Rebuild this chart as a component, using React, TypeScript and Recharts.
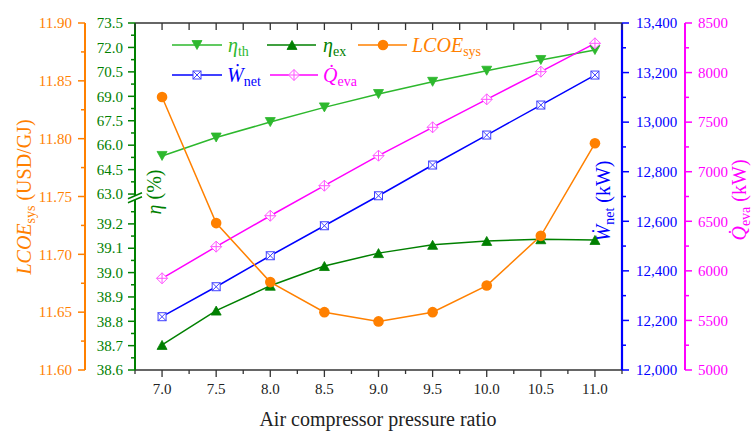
import { LineChart, Line, XAxis, YAxis, Legend } from 'recharts';

const FONT = '"Liberation Serif", "DejaVu Serif", serif';

const C_TH = '#2DB82D';
const C_EX = '#008000';
const C_LCOE = '#FF8000';
const C_W = '#0000FF';
const C_Q = '#FF00FF';
const C_AX = '#333333';

// air compressor pressure ratio
const ratio = [7.0, 7.5, 8.0, 8.5, 9.0, 9.5, 10.0, 10.5, 11.0];
// efficiencies (%)
const etaTh = [65.34, 66.47, 67.42, 68.32, 69.14, 69.89, 70.57, 71.23, 71.84];
const etaEx = [38.703, 38.844, 38.946, 39.027, 39.08, 39.114, 39.13, 39.137, 39.134];
// LCOE (USD/GJ)
const lcoe = [11.836, 11.727, 11.676, 11.65, 11.642, 11.65, 11.673, 11.716, 11.796];
// net power and evaporator duty (kW)
const wNet = [12215, 12336, 12461, 12582, 12703, 12827, 12948, 13069, 13190];
const qEva = [5925, 6244, 6556, 6859, 7162, 7448, 7730, 8009, 8295];

const xTicks = [6.75, 7, 7.25, 7.5, 7.75, 8, 8.25, 8.5, 8.75, 9, 9.25, 9.5, 9.75, 10, 10.25, 10.5, 10.75, 11, 11.25];
const xMajor = [7, 7.5, 8, 8.5, 9, 9.5, 10, 10.5, 11];
const lcoeTicks = [11.6, 11.625, 11.65, 11.675, 11.7, 11.725, 11.75, 11.775, 11.8, 11.825, 11.85, 11.875, 11.9];
const lcoeMajor = [11.6, 11.65, 11.7, 11.75, 11.8, 11.85, 11.9];
const thTicks = [63, 63.75, 64.5, 65.25, 66, 66.75, 67.5, 68.25, 69, 69.75, 70.5, 71.25, 72, 72.75, 73.5];
const thMajor = [63, 64.5, 66, 67.5, 69, 70.5, 72, 73.5];
const exTicks = [38.6, 38.65, 38.7, 38.75, 38.8, 38.85, 38.9, 38.95, 39.0, 39.05, 39.1, 39.15, 39.2, 39.25];
const exMajor = [38.6, 38.7, 38.8, 38.9, 39.0, 39.1, 39.2];
const wTicks = [12000, 12100, 12200, 12300, 12400, 12500, 12600, 12700, 12800, 12900, 13000, 13100, 13200, 13300, 13400];
const wMajor = [12000, 12200, 12400, 12600, 12800, 13000, 13200, 13400];
const qTicks = [5000, 5250, 5500, 5750, 6000, 6250, 6500, 6750, 7000, 7250, 7500, 7750, 8000, 8250, 8500];
const qMajor = [5000, 5500, 6000, 6500, 7000, 7500, 8000, 8500];

const rows = ratio.map((r, i) => ({ r, th: etaTh[i], ex: etaEx[i], lcoe: lcoe[i], w: wNet[i], q: qEva[i] }));

const isMajor = (v: number, majors: number[]) => majors.some((m) => Math.abs(m - v) < 1e-6);

// markers
const TriDown = ({ cx, cy, fill }: any) => (
  <polygon points={`${cx - 5},${cy - 4.5} ${cx + 5},${cy - 4.5} ${cx},${cy + 4.5}`} fill={fill} stroke={fill} strokeWidth={0.8} />
);
const TriUp = ({ cx, cy, fill }: any) => (
  <polygon points={`${cx - 5},${cy + 4.5} ${cx + 5},${cy + 4.5} ${cx},${cy - 4.5}`} fill={fill} stroke={fill} strokeWidth={0.8} />
);
const Dot = ({ cx, cy, fill }: any) => <circle cx={cx} cy={cy} r={5.3} fill={fill} />;
const SqX = ({ cx, cy, color }: any) => (
  <g stroke={color} strokeWidth={1}>
    <rect x={cx - 4} y={cy - 4} width={8} height={8} fill="#fff" />
    <line x1={cx - 4} y1={cy - 4} x2={cx + 4} y2={cy + 4} />
    <line x1={cx + 4} y1={cy - 4} x2={cx - 4} y2={cy + 4} />
  </g>
);
const DiaPlus = ({ cx, cy, color }: any) => (
  <g stroke={color} strokeWidth={1}>
    <polygon points={`${cx},${cy - 5.5} ${cx + 5.5},${cy} ${cx},${cy + 5.5} ${cx - 5.5},${cy}`} fill="#fff" />
    <line x1={cx - 5.5} y1={cy} x2={cx + 5.5} y2={cy} />
    <line x1={cx} y1={cy - 5.5} x2={cx} y2={cy + 5.5} />
  </g>
);

function yTick(side: 'left' | 'right', color: string, majors: number[], fmt: (v: number) => string, gap: number) {
  return (p: any) => {
    const { x, y, payload } = p;
    const v = Number(payload.value);
    const major = isMajor(v, majors);
    const d = side === 'left' ? -1 : 1;
    return (
      <g>
        <line x1={x} x2={x + d * (major ? 7 : 4)} y1={y} y2={y} stroke={color} strokeWidth={1.5} />
        {major && (
          <text x={x + d * gap} y={y} dy="0.35em" textAnchor={side === 'left' ? 'end' : 'start'} fontSize={15} fontFamily={FONT} fill={color}>
            {fmt(v)}
          </text>
        )}
      </g>
    );
  };
}

const LcoeTick = yTick('left', C_LCOE, lcoeMajor, (v) => v.toFixed(2), 13);
const ThTick = yTick('left', C_EX, thMajor, (v) => v.toFixed(1), 12);
const exBase = yTick('left', C_EX, exMajor, (v) => v.toFixed(1), 12);
const ExTick = (p: any) => {
  const base = exBase(p);
  if (Math.abs(Number(p.payload.value) - 39.25) > 1e-6) return base;
  const { x, y } = p;
  const b = y - 14;
  return (
    <g>
      {base}
      <polygon points={`${x - 7},${b + 1} ${x + 7},${b - 5} ${x + 7},${b - 1} ${x - 7},${b + 5}`} fill="#fff" />
      <line x1={x - 7} y1={b + 1} x2={x + 7} y2={b - 5} stroke={C_EX} strokeWidth={1.5} />
      <line x1={x - 7} y1={b + 5} x2={x + 7} y2={b - 1} stroke={C_EX} strokeWidth={1.5} />
    </g>
  );
};
const WTick = yTick('right', C_W, wMajor, (v) => v.toLocaleString('en-US'), 14);
const QTick = yTick('right', C_Q, qMajor, (v) => String(v), 13);

const XBottomTick = (p: any) => {
  const { x, y, payload } = p;
  const v = Number(payload.value);
  const major = isMajor(v, xMajor);
  return (
    <g>
      <line x1={x} x2={x} y1={y} y2={y + (major ? 7 : 4)} stroke={C_AX} strokeWidth={1.3} />
      {major && (
        <text x={x} y={y + 24} textAnchor="middle" fontSize={15} fontFamily={FONT} fill="#222">
          {v.toFixed(1)}
        </text>
      )}
    </g>
  );
};
const XTopTick = (p: any) => {
  const { x, y } = p;
  return <line x1={x} x2={x} y1={y} y2={y + 7} stroke={C_AX} strokeWidth={1.3} />;
};

const rot = (x: number, y: number) => `rotate(-90 ${x} ${y})`;

const XTitle = () => (
  <text x={378} y={426} textAnchor="middle" fontSize={20} fontFamily={FONT} fill="#222">
    Air compressor pressure ratio
  </text>
);
const LcoeTitle = () => (
  <text x={31} y={197} transform={rot(31, 197)} textAnchor="middle" fontSize={20} fontFamily={FONT} fill={C_LCOE}>
    <tspan fontStyle="italic">LCOE</tspan>
    <tspan fontSize={14} dy={4}>sys</tspan>
    <tspan dy={-4}> (USD/GJ)</tspan>
  </text>
);
const EtaTitle = () => (
  <text x={161} y={192} transform={rot(161, 192)} textAnchor="middle" fontSize={20} fontFamily={FONT} fill={C_EX}>
    <tspan fontStyle="italic">η</tspan> (%)
  </text>
);
const WTitle = () => (
  <text x={610} y={201} transform={rot(610, 201)} textAnchor="middle" fontSize={20} fontFamily={FONT} fill={C_W}>
    <tspan fontStyle="italic">Ẇ</tspan>
    <tspan fontSize={14} dy={4}>net</tspan>
    <tspan dy={-4}> (kW)</tspan>
  </text>
);
const QTitle = () => (
  <text x={746} y={200} transform={rot(746, 200)} textAnchor="middle" fontSize={20} fontFamily={FONT} fill={C_Q}>
    <tspan fontStyle="italic">Q̇</tspan>
    <tspan fontSize={14} dy={4}>eva</tspan>
    <tspan dy={-4}> (kW)</tspan>
  </text>
);

const LegendOverlay = () => (
  <svg width={754} height={433} style={{ position: 'absolute', left: 0, top: 0 }}>
    <g fontFamily={FONT} fontSize={20}>
      <line x1={172} x2={222} y1={45} y2={45} stroke={C_TH} strokeWidth={1.5} />
      <TriDown cx={197} cy={45} fill={C_TH} />
      <text x={228} y={52} fill={C_TH}>
        <tspan fontStyle="italic">η</tspan>
        <tspan fontSize={14} dy={4}>th</tspan>
      </text>
      <line x1={267} x2={316} y1={45} y2={45} stroke={C_EX} strokeWidth={1.5} />
      <TriUp cx={292} cy={45} fill={C_EX} />
      <text x={323} y={52} fill={C_EX}>
        <tspan fontStyle="italic">η</tspan>
        <tspan fontSize={14} dy={4}>ex</tspan>
      </text>
      <line x1={358} x2={407} y1={45} y2={45} stroke={C_LCOE} strokeWidth={1.5} />
      <Dot cx={383} cy={45} fill={C_LCOE} />
      <text x={412} y={52} fill={C_LCOE}>
        <tspan fontStyle="italic">LCOE</tspan>
        <tspan fontSize={14} dy={4}>sys</tspan>
      </text>
      <line x1={172} x2={222} y1={75} y2={75} stroke={C_W} strokeWidth={1.5} />
      <SqX cx={197} cy={75} color="#4040ff" />
      <text x={227} y={82} fill={C_W}>
        <tspan fontStyle="italic">Ẇ</tspan>
        <tspan fontSize={14} dy={4}>net</tspan>
      </text>
      <line x1={270} x2={318} y1={75} y2={75} stroke={C_Q} strokeWidth={1.5} />
      <DiaPlus cx={294} cy={75} color="#ff55ff" />
      <text x={323} y={82} fill={C_Q}>
        <tspan fontStyle="italic">Q̇</tspan>
        <tspan fontSize={14} dy={4}>eva</tspan>
      </text>
    </g>
  </svg>
);

export default function App() {
  return (
    <div style={{ position: 'absolute', left: 0, top: 0, width: 754, height: 433, background: '#fff', fontFamily: FONT }}>
      <LineChart width={754} height={433} data={rows} margin={{ top: 23, right: 0, bottom: 0, left: 0 }}>
        <XAxis
          xAxisId="b"
          dataKey="r"
          type="number"
          domain={[6.75, 11.25]}
          allowDataOverflow
          ticks={xTicks}
          interval={0}
          height={63}
          tickSize={0}
          tickMargin={0}
          tickLine={false}
          axisLine={{ stroke: C_AX, strokeWidth: 1.5 }}
          tick={XBottomTick}
          label={<XTitle />}
        />
        <XAxis
          xAxisId="t"
          orientation="top"
          mirror
          dataKey="r"
          type="number"
          domain={[6.75, 11.25]}
          allowDataOverflow
          ticks={xTicks}
          interval={0}
          tickSize={0}
          tickMargin={0}
          tickLine={false}
          axisLine={{ stroke: C_AX, strokeWidth: 1.5 }}
          tick={XTopTick}
        />
        <YAxis
          yAxisId="ex"
          type="number"
          domain={[38.6, 40.025]}
          allowDataOverflow
          ticks={exTicks}
          interval={0}
          width={50}
          tickSize={0}
          tickMargin={0}
          tickLine={false}
          axisLine={{ stroke: C_EX, strokeWidth: 2 }}
          tick={ExTick}
        />
        <YAxis
          yAxisId="th"
          type="number"
          mirror
          domain={[52.2, 73.5]}
          allowDataOverflow
          ticks={thTicks}
          interval={0}
          width={50}
          tickSize={0}
          tickMargin={0}
          tickLine={false}
          axisLine={false}
          tick={ThTick}
          label={<EtaTitle />}
        />
        <YAxis
          yAxisId="lcoe"
          type="number"
          domain={[11.6, 11.9]}
          allowDataOverflow
          ticks={lcoeTicks}
          interval={0}
          width={85}
          tickSize={0}
          tickMargin={0}
          tickLine={false}
          axisLine={{ stroke: C_LCOE, strokeWidth: 2 }}
          tick={LcoeTick}
          label={<LcoeTitle />}
        />
        <YAxis
          yAxisId="aw"
          orientation="right"
          type="number"
          domain={[12000, 13400]}
          allowDataOverflow
          ticks={wTicks}
          interval={0}
          width={63}
          tickSize={0}
          tickMargin={0}
          tickLine={false}
          axisLine={{ stroke: C_W, strokeWidth: 2.2 }}
          tick={WTick}
          label={<WTitle />}
        />
        <YAxis
          yAxisId="bq"
          orientation="right"
          type="number"
          domain={[5000, 8500]}
          allowDataOverflow
          ticks={qTicks}
          interval={0}
          width={69}
          tickSize={0}
          tickMargin={0}
          tickLine={false}
          axisLine={{ stroke: C_Q, strokeWidth: 2 }}
          tick={QTick}
          label={<QTitle />}
        />
        <Line xAxisId="b" yAxisId="th" dataKey="th" stroke={C_TH} strokeWidth={1.5} isAnimationActive={false} activeDot={false}
          dot={(p: any) => <TriDown key={`th${p.index}`} cx={p.cx} cy={p.cy} fill={C_TH} />} />
        <Line xAxisId="b" yAxisId="ex" dataKey="ex" stroke={C_EX} strokeWidth={1.5} isAnimationActive={false} activeDot={false}
          dot={(p: any) => <TriUp key={`ex${p.index}`} cx={p.cx} cy={p.cy} fill={C_EX} />} />
        <Line xAxisId="b" yAxisId="aw" dataKey="w" stroke={C_W} strokeWidth={1.5} isAnimationActive={false} activeDot={false}
          dot={(p: any) => <SqX key={`w${p.index}`} cx={p.cx} cy={p.cy} color="#4040ff" />} />
        <Line xAxisId="b" yAxisId="bq" dataKey="q" stroke={C_Q} strokeWidth={1.5} isAnimationActive={false} activeDot={false}
          dot={(p: any) => <DiaPlus key={`q${p.index}`} cx={p.cx} cy={p.cy} color="#ff55ff" />} />
        <Line xAxisId="b" yAxisId="lcoe" dataKey="lcoe" stroke={C_LCOE} strokeWidth={1.5} isAnimationActive={false} activeDot={false}
          dot={(p: any) => <Dot key={`l${p.index}`} cx={p.cx} cy={p.cy} fill={C_LCOE} />} />
        <Legend
          layout="horizontal"
          verticalAlign="middle"
          align="center"
          content={() => <LegendOverlay />}
          wrapperStyle={{ left: 0, top: 0, width: 754, height: 433, pointerEvents: 'none' }}
        />
      </LineChart>
    </div>
  );
}
